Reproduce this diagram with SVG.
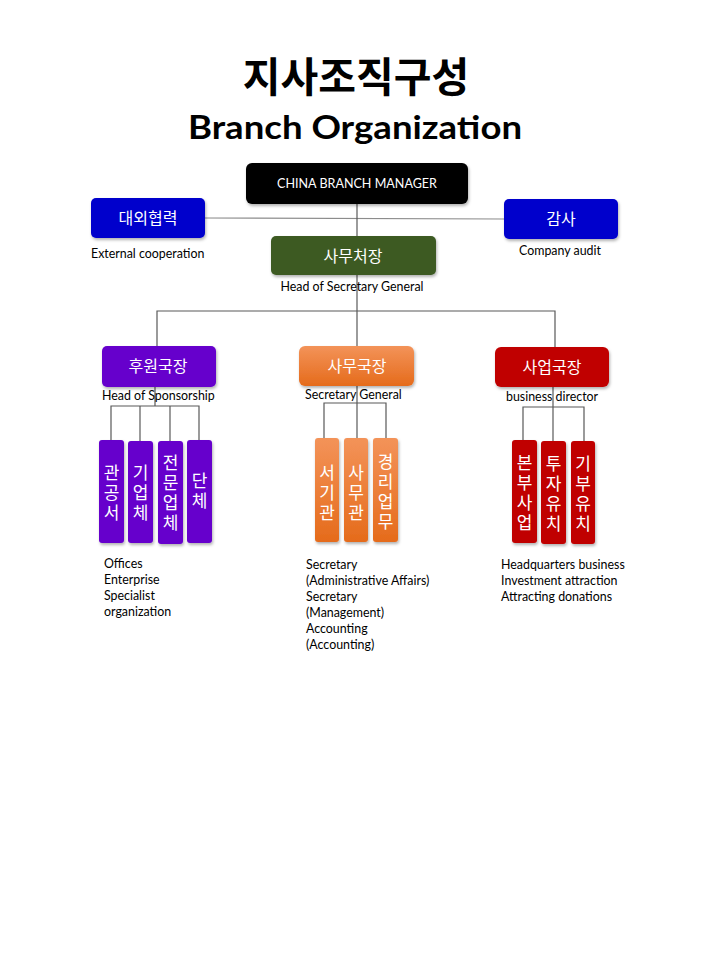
<svg xmlns="http://www.w3.org/2000/svg" width="720" height="978" viewBox="0 0 720 978">
<style>
.ko{font-family:"Noto Sans CJK KR","Noto Sans",sans-serif;fill:#fff;text-anchor:middle}
.bt{font-size:16px}
.vt{font-size:17px;writing-mode:vertical-rl;letter-spacing:3px}
.lbl{font-family:Lato,"Open Sans",sans-serif;font-size:12.4px;fill:#000}
.ln{stroke:#595959;stroke-width:1.2;fill:none}
.box{filter:url(#sh)}
</style>
<defs>
<filter id="sh" x="-20%" y="-20%" width="140%" height="150%">
<feDropShadow dx="1" dy="2" stdDeviation="1.5" flood-color="#000" flood-opacity="0.3"/>
</filter>
<linearGradient id="og" x1="0" y1="0" x2="0" y2="1">
<stop offset="0" stop-color="#F39359"/>
<stop offset="1" stop-color="#E56B1B"/>
</linearGradient>
</defs>
<rect width="720" height="978" fill="#fff"/>
<g id="title">
<text x="356" y="92" text-anchor="middle" font-family="Noto Sans CJK KR,sans-serif" font-weight="bold" font-size="41" fill="#000">지사조직구성</text>
<text x="355" y="139" text-anchor="middle" font-family="Lato,'Open Sans',sans-serif" font-weight="bold" font-size="32" textLength="334" lengthAdjust="spacingAndGlyphs" fill="#000">Branch Organization</text>
</g>
<g id="connectors">
<line x1="205" y1="218" x2="504" y2="219" stroke="#8c8c8c" stroke-width="1.2"/>
<line class="ln" x1="357" y1="204" x2="357" y2="438"/>
<polyline class="ln" points="157,346 157,311 555,311 555,347"/>
<line class="ln" x1="155" y1="387" x2="155" y2="406"/>
<polyline class="ln" points="111,440 111,406 199,406 199,440"/>
<line class="ln" x1="140" y1="406" x2="140" y2="441"/>
<line class="ln" x1="170" y1="406" x2="170" y2="441"/>
<polyline class="ln" points="324,438 324,403 386,403 386,438"/>
<line class="ln" x1="553" y1="387" x2="553" y2="441"/>
<polyline class="ln" points="523,440 523,407 584,407 584,441"/>
</g>
<g id="manager">
<rect class="box" x="246" y="163" width="222" height="41" rx="6" fill="#000"/>
<text x="357" y="188" text-anchor="middle" font-family="Lato,'Open Sans',sans-serif" font-size="13" textLength="160" lengthAdjust="spacingAndGlyphs" fill="#fff">CHINA BRANCH MANAGER</text>
</g>
<g id="external">
<rect class="box" x="91" y="198" width="114" height="40" rx="5" fill="#0000CC"/>
<text class="ko bt" x="148" y="224">대외협력</text>
<text class="lbl" x="91" y="258">External cooperation</text>
</g>
<g id="audit">
<rect class="box" x="504" y="199" width="114" height="40" rx="5" fill="#0000CC"/>
<text class="ko bt" x="561" y="225">감사</text>
<text class="lbl" x="560" y="255" text-anchor="middle">Company audit</text>
</g>
<g id="secgen-head">
<rect class="box" x="271" y="236" width="165" height="39" rx="5" fill="#3C5A24"/>
<text class="ko bt" x="353" y="262">사무처장</text>
<text class="lbl" x="352" y="291" text-anchor="middle">Head of Secretary General</text>
</g>
<g id="sponsor">
<rect class="box" x="102" y="346" width="114" height="41" rx="5" fill="#6600CC"/>
<text class="ko bt" x="158" y="372">후원국장</text>
<text class="lbl" x="102" y="400">Head of Sponsorship</text>
</g>
<g id="sponsor-1">
<rect class="box" x="99" y="440" width="25" height="103" rx="3" fill="#6600CC"/>
<text class="ko vt" x="111.5" y="494">관공서</text>
</g>
<g id="sponsor-2">
<rect class="box" x="128" y="441" width="25" height="102" rx="3" fill="#6600CC"/>
<text class="ko vt" x="140.5" y="494">기업체</text>
</g>
<g id="sponsor-3">
<rect class="box" x="158" y="441" width="25" height="103" rx="3" fill="#6600CC"/>
<text class="ko vt" x="170.5" y="494">전문업체</text>
</g>
<g id="sponsor-4">
<rect class="box" x="187" y="440" width="25" height="103" rx="3" fill="#6600CC"/>
<text class="ko vt" x="199.5" y="492">단체</text>
</g>
<g id="sponsor-notes">
<text class="lbl" x="104" y="568">Offices</text>
<text class="lbl" x="104" y="584">Enterprise</text>
<text class="lbl" x="104" y="600">Specialist</text>
<text class="lbl" x="104" y="616">organization</text>
</g>
<g id="secretary">
<rect class="box" x="299" y="346" width="115" height="40" rx="6" fill="url(#og)"/>
<text class="ko bt" x="357" y="372">사무국장</text>
<text class="lbl" x="305" y="399">Secretary General</text>
</g>
<g id="secretary-1">
<rect class="box" x="315" y="438" width="24" height="104" rx="3" fill="url(#og)"/>
<text class="ko vt" x="327" y="494">서기관</text>
</g>
<g id="secretary-2">
<rect class="box" x="344" y="438" width="24" height="104" rx="3" fill="url(#og)"/>
<text class="ko vt" x="356" y="494">사무관</text>
</g>
<g id="secretary-3">
<rect class="box" x="373" y="438" width="25" height="104" rx="3" fill="url(#og)"/>
<text class="ko vt" x="385.5" y="493">경리업무</text>
</g>
<g id="secretary-notes">
<text class="lbl" x="306" y="569">Secretary</text>
<text class="lbl" x="306" y="585">(Administrative Affairs)</text>
<text class="lbl" x="306" y="601">Secretary</text>
<text class="lbl" x="306" y="617">(Management)</text>
<text class="lbl" x="306" y="633">Accounting</text>
<text class="lbl" x="306" y="649">(Accounting)</text>
</g>
<g id="business">
<rect class="box" x="495" y="347" width="114" height="40" rx="6" fill="#C00000"/>
<text class="ko bt" x="552" y="373">사업국장</text>
<text class="lbl" x="506" y="401">business director</text>
</g>
<g id="business-1">
<rect class="box" x="512" y="440" width="25" height="103" rx="3" fill="#C00000"/>
<text class="ko vt" x="524.5" y="494">본부사업</text>
</g>
<g id="business-2">
<rect class="box" x="541" y="441" width="25" height="103" rx="3" fill="#C00000"/>
<text class="ko vt" x="553.5" y="495">투자유치</text>
</g>
<g id="business-3">
<rect class="box" x="571" y="441" width="24" height="103" rx="3" fill="#C00000"/>
<text class="ko vt" x="583" y="495">기부유치</text>
</g>
<g id="business-notes">
<text class="lbl" x="501" y="569">Headquarters business</text>
<text class="lbl" x="501" y="585">Investment attraction</text>
<text class="lbl" x="501" y="601">Attracting donations</text>
</g>
</svg>
